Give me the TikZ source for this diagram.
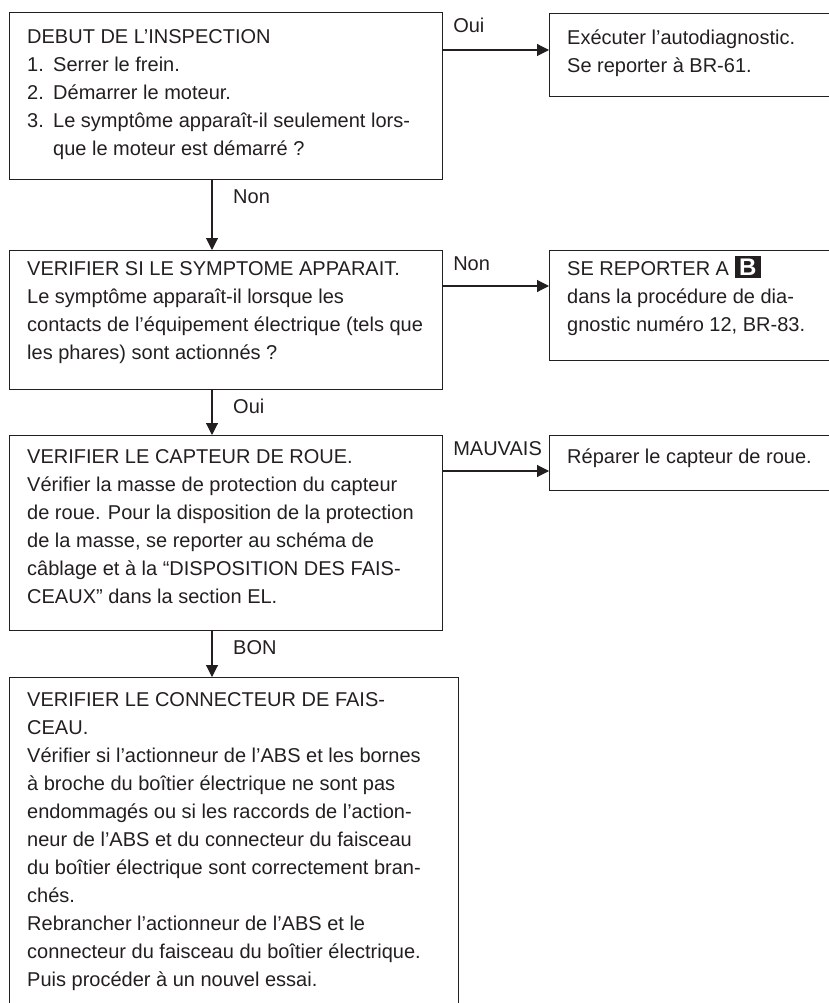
\documentclass[tikz,border=0pt]{standalone}
\usepackage{fontspec}
\setmainfont{Liberation Sans}
\usetikzlibrary{arrows.meta}
\definecolor{ink}{RGB}{35,31,32}
\newcommand{\bicon}{{\setlength{\fboxsep}{3pt}\colorbox{ink}{\kern1.5pt\textcolor{white}{\fontsize{24}{24}\selectfont\bfseries B}\kern1.5pt}}}
\newcommand{\topstrut}[1]{\rule{0pt}{#1}}
\begin{document}
\begin{tikzpicture}[x=1pt,y=-1pt,
  box/.style={draw=ink, line width=1.1pt, rectangle, inner sep=0pt, anchor=north west},
  txt/.style={anchor=north west, inner sep=0pt, align=left, text=ink, font=\fontsize{20}{28}\selectfont},
  lbl/.style={anchor=base west, inner sep=0pt, text=ink, font=\fontsize{20}{28}\selectfont},
  arr/.style={draw=ink, line width=1.1pt, -{Triangle[width=12pt,length=12pt]}}]
\useasboundingbox (0,0) rectangle (829,1003);
% boxes
\node[box, minimum width=433pt, minimum height=167pt] (b1) at (9,12) {};
\node[box, minimum width=320pt, minimum height=83pt] (b2) at (549,13) {};
\node[box, minimum width=433pt, minimum height=139pt] (b3) at (9,250) {};
\node[box, minimum width=320pt, minimum height=110pt] (b4) at (549,250) {};
\node[box, minimum width=433pt, minimum height=195pt] (b5) at (9,435) {};
\node[box, minimum width=320pt, minimum height=55pt] (b6) at (549,435) {};
\node[box, minimum width=449pt, minimum height=340pt] (b7) at (9,677) {};
% texts
\node[txt] (t1) at ([xshift=18pt]b1.north west) {\topstrut{31pt}DEBUT DE L’INSPECTION\\
\makebox[26pt][l]{1.}Serrer le frein.\\
\makebox[26pt][l]{2.}Démarrer le moteur.\\
\makebox[26pt][l]{3.}Le symptôme apparaît-il seulement lors-\\
\hspace*{26pt}que le moteur est démarré ?};
\node[txt] (t2) at ([xshift=18pt]b2.north west) {\topstrut{31pt}Exécuter l’autodiagnostic.\\
Se reporter à BR-61.};
\node[txt] (t3) at ([xshift=18pt]b3.north west) {\topstrut{25pt}VERIFIER SI LE SYMPTOME APPARAIT.\\
Le symptôme apparaît-il lorsque les\\
contacts de l’équipement électrique (tels que\\
les phares) sont actionnés ?};
\node[txt] (t4) at ([xshift=18pt]b4.north west) {\topstrut{25pt}SE REPORTER A \bicon\\
dans la procédure de dia-\\
gnostic numéro 12, BR-83.};
\node[txt] (t5) at ([xshift=18pt]b5.north west) {\topstrut{28pt}VERIFIER LE CAPTEUR DE ROUE.\\
Vérifier la masse de protection du capteur\\
de roue. Pour la disposition de la protection\\
de la masse, se reporter au schéma de\\
câblage et à la “DISPOSITION DES FAIS-\\
CEAUX” dans la section EL.};
\node[txt] (t6) at ([xshift=18pt]b6.north west) {\topstrut{28pt}Réparer le capteur de roue.};
\node[txt] (t7) at ([xshift=18pt]b7.north west) {\topstrut{29pt}VERIFIER LE CONNECTEUR DE FAIS-\\
CEAU.\\
Vérifier si l’actionneur de l’ABS et les bornes\\
à broche du boîtier électrique ne sont pas\\
endommagés ou si les raccords de l’action-\\
neur de l’ABS et du connecteur du faisceau\\
du boîtier électrique sont correctement bran-\\
chés.\\
Rebrancher l’actionneur de l’ABS et le\\
connecteur du faisceau du boîtier électrique.\\
Puis procéder à un nouvel essai.};
% horizontal connectors
\draw[arr] ([yshift=-38pt]b1.north east) -- ([yshift=-38pt]b1.north east -| b2.west);
\draw[arr] ([yshift=-36pt]b3.north east) -- ([yshift=-36pt]b3.north east -| b4.west);
\draw[arr] ([yshift=-36pt]b5.north east) -- ([yshift=-36pt]b5.north east -| b6.west);
% vertical connectors
\draw[arr] ([xshift=203pt]b1.south west) -- ([xshift=203pt]b1.south west |- b3.north);
\draw[arr] ([xshift=203pt]b3.south west) -- ([xshift=203pt]b3.south west |- b5.north);
\draw[arr] ([xshift=203pt]b5.south west) -- ([xshift=203pt]b5.south west |- b7.north);
% labels
\node[lbl] (l1) at ([xshift=10pt,yshift=-21pt]b1.north east) {Oui};
\node[lbl] (l2) at ([xshift=10pt,yshift=-20pt]b3.north east) {Non};
\node[lbl] (l3) at ([xshift=10pt,yshift=-20pt]b5.north east) {MAUVAIS};
\node[lbl] (l4) at ([xshift=224pt,yshift=-23pt]b1.south west) {Non};
\node[lbl] (l5) at ([xshift=224pt,yshift=-23pt]b3.south west) {Oui};
\node[lbl] (l6) at ([xshift=224pt,yshift=-23pt]b5.south west) {BON};
\end{tikzpicture}
\end{document}
